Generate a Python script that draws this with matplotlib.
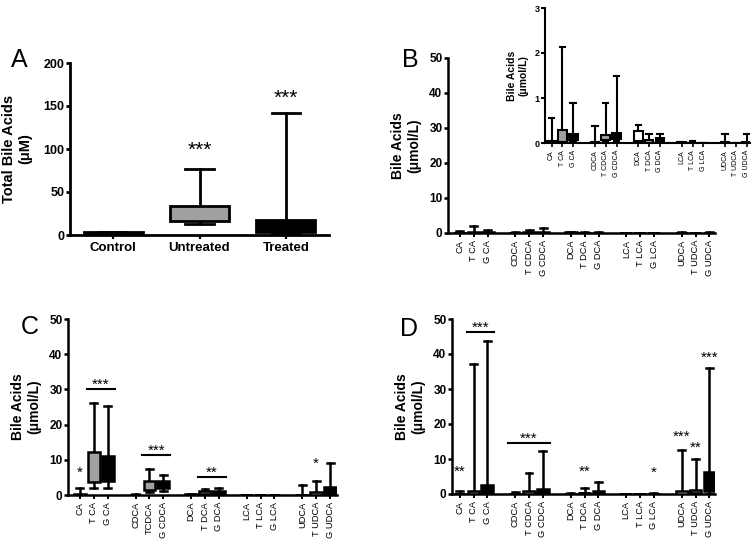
import numpy as np
import matplotlib
matplotlib.use("Agg")
import matplotlib.pyplot as plt

plt.rcParams["font.family"] = ["Liberation Sans", "DejaVu Sans"]

# Panel A: total bile acids (uM)
a_groups = ["Control", "Untreated", "Treated"]
a_min = [0.5, 13, 2]
a_q1 = [1, 16, 3]
a_med = [2, 20, 8]
a_q3 = [3, 34, 17]
a_max = [4, 77, 142]
a_stars = ["", "***", "***"]
a_star_y = [0, 99, 159]

# Individual bile acids (umol/L)
acids = ["CA", "T CA", "G CA", "CDCA", "T CDCA", "G CDCA", "DCA", "T DCA", "G DCA",
         "LCA", "T LCA", "G LCA", "UDCA", "T UDCA", "G UDCA"]
acids_c = ["CA", "T CA", "G CA", "CDCA", "TCDCA", "G CDCA", "DCA", "T DCA", "G DCA",
           "LCA", "T LCA", "G LCA", "UDCA", "T UDCA", "G UDCA"]

# Panel B: control
b_min = [0, 0.02, 0.03, 0, 0.03, 0.05, 0.01, 0, 0.02, 0, 0, 0, 0, 0, 0]
b_q1 = [0, 0.03, 0.07, 0, 0.06, 0.08, 0.04, 0.01, 0.03, 0, 0, 0, 0, 0, 0]
b_med = [0.02, 0.06, 0.12, 0.01, 0.12, 0.14, 0.12, 0.03, 0.06, 0.01, 0, 0, 0.01, 0, 0.01]
b_q3 = [0.05, 0.3, 0.19, 0.03, 0.18, 0.22, 0.27, 0.07, 0.11, 0.02, 0.01, 0.01, 0.03, 0.01, 0.03]
b_max = [0.55, 2.13, 0.89, 0.38, 0.89, 1.5, 0.41, 0.21, 0.19, 0.02, 0.04, 0.01, 0.19, 0.01, 0.19]

# Panel C: untreated
c_min = [0, 2.0, 2.0, 0, 0.8, 1.2, 0, 0.1, 0.1, 0, 0, 0, 0, 0, 0]
c_q1 = [0, 3.8, 3.9, 0, 1.5, 2.0, 0, 0.2, 0.2, 0, 0, 0, 0, 0.05, 0.1]
c_med = [0.1, 6.2, 6.5, 0.05, 3.0, 3.0, 0.1, 0.6, 0.6, 0, 0, 0, 0.05, 0.3, 1.0]
c_q3 = [0.3, 12.2, 11.0, 0.1, 3.9, 3.9, 0.2, 1.1, 1.1, 0.05, 0.05, 0.05, 0.1, 0.9, 2.4]
c_max = [2.0, 26.0, 25.3, 0.2, 7.3, 5.8, 0.4, 1.8, 2.0, 0.1, 0.1, 0.1, 2.8, 4.1, 9.0]
c_stars = [("*", "CA", 6.2), ("*", "T UDCA", 9.0)]
c_bars = [("***", "T CA", "G CA", 30.0), ("***", "TCDCA", "G CDCA", 11.5),
          ("**", "T DCA", "G DCA", 5.2)]

# Panel D: treated
d_min = [0] * 15
d_q1 = [0, 0.1, 0.2, 0, 0.1, 0.2, 0, 0.05, 0.1, 0, 0, 0, 0.1, 0.2, 0.8]
d_med = [0.05, 0.4, 0.8, 0.05, 0.3, 0.6, 0.05, 0.2, 0.3, 0, 0, 0.05, 0.5, 0.5, 2.5]
d_q3 = [0.1, 0.9, 2.7, 0.1, 0.8, 1.5, 0.1, 0.4, 0.8, 0.05, 0.05, 0.1, 1.0, 1.2, 6.2]
d_max = [1.0, 37.2, 43.8, 0.6, 5.9, 12.3, 0.3, 1.7, 3.4, 0.05, 0.05, 0.3, 12.6, 10.0, 35.9]
d_stars = [("**", "CA", 6.3), ("**", "T DCA", 6.3), ("*", "G LCA", 6.0),
           ("***", "UDCA", 16.4), ("**", "T UDCA", 13.3), ("***", "G UDCA", 39.0)]
d_bars = [("***", "T CA", "G CA", 46.2), ("***", "CDCA", "G CDCA", 14.7)]

W, H = 754, 544
fig = plt.figure(figsize=(W / 100, H / 100), dpi=100)


def px_axes(l, t, r, b):
  return fig.add_axes([l / W, 1 - b / H, (r - l) / W, (b - t) / H])


# positions with a gap between each family of three
pos = np.array([i + i // 3 for i in range(15)], dtype=float)
fills = ["white", "#a0a0a0", "black"] * 5


def style_axes(ax, lw, fs):
  for s in ["top", "right"]:
    ax.spines[s].set_visible(False)
  for s in ["left", "bottom"]:
    ax.spines[s].set_linewidth(lw)
  ax.tick_params(axis="y", width=lw, length=3, labelsize=fs, pad=1)
  ax.tick_params(axis="x", width=lw * 0.8, length=3, pad=2)
  for t in ax.get_yticklabels():
    t.set_fontweight("bold")


def boxes(ax, x, lo, q1, med, q3, hi, colors, width, capw, lw):
  stats = [dict(whislo=a, q1=b, med=c, q3=d, whishi=e, fliers=[])
           for a, b, c, d, e in zip(lo, q1, med, q3, hi)]
  art = ax.bxp(stats, positions=x, widths=width, capwidths=capw, patch_artist=True,
               showfliers=False, manage_ticks=False,
               boxprops=dict(linewidth=lw, edgecolor="black"),
               whiskerprops=dict(linewidth=lw),
               capprops=dict(linewidth=lw),
               medianprops=dict(linewidth=lw * 0.8, color="black"))
  for p, c in zip(art["boxes"], colors):
    p.set_facecolor(c)
    p.set_zorder(3)


def acid_panel(ax, names, lo, q1, med, q3, hi, xlim, lw=1.8, fs=8.5, cfs=6.7, bw=0.85):
  boxes(ax, pos, lo, q1, med, q3, hi, fills, bw, 0.5, lw)
  ax.set_xlim(*xlim)
  ax.set_xticks(pos)
  ax.set_xticklabels(names, rotation=90, fontsize=cfs)
  style_axes(ax, lw, fs)


# ---- Panel A
axA = px_axes(70, 63, 329, 235)
boxes(axA, np.arange(3), a_min, a_q1, a_med, a_q3, a_max,
      ["black", "#a0a0a0", "black"], 0.68, 0.33, 2.0)
axA.set_xlim(-0.5, 2.5)
axA.set_ylim(0, 200)
axA.set_yticks([0, 50, 100, 150, 200])
axA.set_xticks(np.arange(3))
axA.set_xticklabels(a_groups, fontsize=9.5, fontweight="bold")
style_axes(axA, 2.0, 9)
axA.set_ylabel("Total Bile Acids\n(μM)", fontsize=10.5, fontweight="bold", labelpad=8)
for i, s in enumerate(a_stars):
  if s:
    axA.text(i, a_star_y[i], s, ha="center", va="center", fontsize=15)

# ---- Panel B (main + inset)
axB = px_axes(448, 58, 715, 233)
acid_panel(axB, acids, b_min, b_q1, b_med, b_q3, b_max, (-0.86, 18.4))
axB.set_ylim(0, 50)
axB.set_yticks(range(0, 51, 10))
axB.set_ylabel("Bile Acids\n(μmol/L)", fontsize=10, fontweight="bold", labelpad=6)

axI = px_axes(545, 8, 750, 143)
acid_panel(axI, acids, b_min, b_q1, b_med, b_q3, b_max, (-0.6, 18.3),
           lw=1.5, fs=6.5, cfs=5, bw=0.8)
axI.set_ylim(0, 3)
axI.set_yticks([0, 1, 2, 3])
axI.set_ylabel("Bile Acids\n(μmol/L)", fontsize=7.5, fontweight="bold", labelpad=4)
axI.patch.set_alpha(0)

# ---- Panel C
axC = px_axes(68, 319, 337, 495)
acid_panel(axC, acids_c, c_min, c_q1, c_med, c_q3, c_max, (-0.86, 18.5))
axC.set_ylim(0, 50)
axC.set_yticks(range(0, 51, 10))
axC.set_ylabel("Bile Acids\n(μmol/L)", fontsize=10, fontweight="bold", labelpad=6)

# ---- Panel D
axD = px_axes(452, 319, 715, 494)
acid_panel(axD, acids, d_min, d_q1, d_med, d_q3, d_max, (-0.55, 18.4))
axD.set_ylim(0, 50)
axD.set_yticks(range(0, 51, 10))
axD.set_ylabel("Bile Acids\n(μmol/L)", fontsize=10, fontweight="bold", labelpad=6)


def annotate(ax, names, stars, bars):
  for s, n, y in stars:
    ax.text(pos[names.index(n)], y, s, ha="center", va="center", fontsize=11)
  for s, n1, n2, y in bars:
    x1, x2 = pos[names.index(n1)] - 0.5, pos[names.index(n2)] + 0.5
    ax.plot([x1, x2], [y, y], color="black", lw=1.5, clip_on=False)
    ax.text((x1 + x2) / 2, y + 1.2, s, ha="center", va="center", fontsize=11)


annotate(axC, acids_c, c_stars, c_bars)
annotate(axD, acids, d_stars, d_bars)

# panel letters
for lab, x, y in [("A", 19, 60), ("B", 410, 60), ("C", 30, 327), ("D", 409, 329)]:
  fig.text(x / W, 1 - y / H, lab, fontsize=18, ha="center", va="center")

fig.savefig("out.png", dpi=100)
